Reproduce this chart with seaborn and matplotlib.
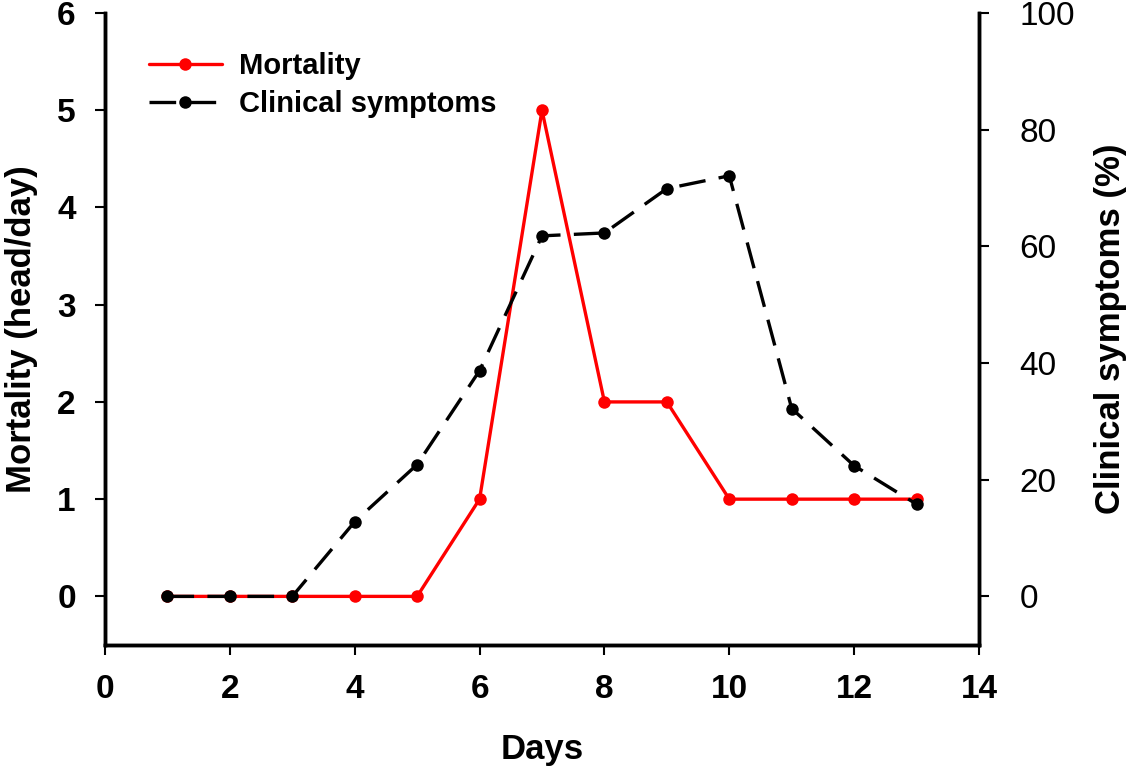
import matplotlib
matplotlib.use("Agg")
import matplotlib.pyplot as plt
import seaborn as sns
import pandas as pd

days = [1, 2, 3, 4, 5, 6, 7, 8, 9, 10, 11, 12, 13]
mortality = [0, 0, 0, 0, 0, 1, 5, 2, 2, 1, 1, 1, 1]
clinical = [0, 0, 0, 12.8, 22.6, 38.7, 61.8, 62.3, 69.9, 72.1, 32.2, 22.4, 15.8]
x_ticks = [0, 2, 4, 6, 8, 10, 12, 14]
left_ticks = [0, 1, 2, 3, 4, 5, 6]
right_ticks = [0, 20, 40, 60, 80, 100]

sns.set_style("white")
plt.rcParams['font.family'] = ['Liberation Sans', 'DejaVu Sans']
plt.rcParams['text.color'] = 'black'
plt.rcParams['axes.labelcolor'] = 'black'
plt.rcParams['xtick.color'] = 'black'
plt.rcParams['ytick.color'] = 'black'

df = pd.DataFrame({"Days": days, "Mortality": mortality, "Clinical": clinical})

fig = plt.figure(figsize=(11.34, 7.73), dpi=100)
ax = fig.add_axes([105/1134, (773-645)/773, (979-105)/1134, (645-13)/773])
ax2 = ax.twinx()

sns.lineplot(data=df, x="Days", y="Mortality", ax=ax, color="#ff0000", linewidth=2.4,
             marker="o", markersize=9, markeredgewidth=0, label="Mortality", legend=False)
sns.lineplot(data=df, x="Days", y="Clinical", ax=ax2, color="black", linewidth=2.4,
             linestyle=(0, (8, 4)), marker="o", markersize=9, markeredgewidth=0,
             label="Clinical symptoms", legend=False)

ax.set_xlim(0, 14)
ax.set_ylim(-0.5, 6)
ax2.set_ylim(-0.5 * 100 / 6, 100)
ax.set_xticks(x_ticks)
ax.set_yticks(left_ticks)
ax2.set_yticks(right_ticks)

for a in (ax, ax2):
    a.spines['top'].set_visible(False)
    for s in ('left', 'right', 'bottom'):
        a.spines[s].set_linewidth(2.5)
        a.spines[s].set_color('black')

ax.tick_params(axis='x', direction='out', length=7, width=1.5, pad=14, labelsize=24, bottom=True)
ax.tick_params(axis='y', direction='out', length=7, width=1.5, pad=14, labelsize=24, left=True)
ax2.tick_params(axis='y', direction='out', length=7, width=1.5, pad=22, labelsize=24, right=True)
for lbl in ax.get_yticklabels() + ax.get_xticklabels():
    lbl.set_fontweight('bold')

ax.set_xlabel("Days", fontsize=25, fontweight='bold', labelpad=20)
ax.set_ylabel("Mortality (head/day)", fontsize=25, fontweight='bold', labelpad=14)
ax2.set_ylabel("Clinical symptoms (%)", fontsize=25, fontweight='bold', labelpad=14)

h1, l1 = ax.get_legend_handles_labels()
h2, l2 = ax2.get_legend_handles_labels()
leg = ax.legend(h1 + h2, l1 + l2, loc='upper left', bbox_to_anchor=(0.02, 0.98),
                frameon=False, prop={'size': 21, 'weight': 'bold'},
                handlelength=2.5, handletextpad=0.6, labelspacing=0.35)

fig.savefig("out.png", dpi=100)
